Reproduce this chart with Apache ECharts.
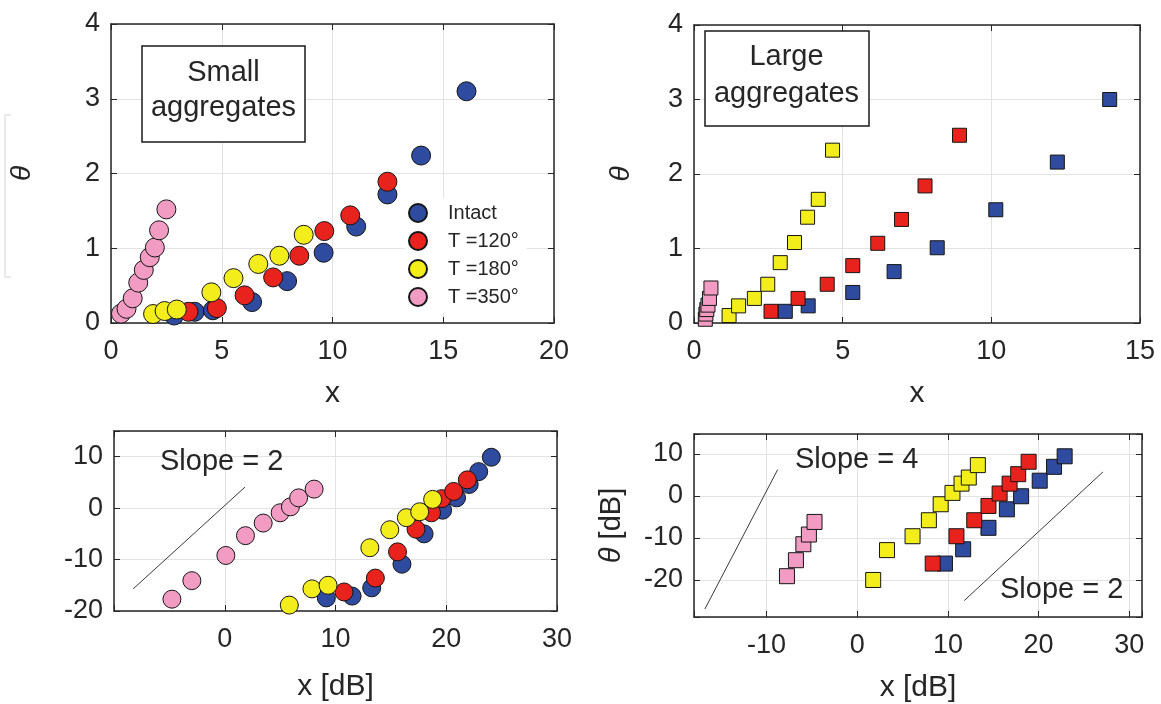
<!DOCTYPE html>
<html><head><meta charset="utf-8">
<script src="https://cdn.jsdelivr.net/npm/echarts@6/dist/echarts.min.js"></script>
<style>html,body{margin:0;padding:0;background:#fff}#c{width:1161px;height:704px}</style>
</head><body><div id="c"></div>
<script>
// ---------- data ----------
const seriesNames = ['Intact', 'T =120°', 'T =180°', 'T =350°'];
const seriesColors = ['#2f4b9f', '#e8231e', '#f3ee1b', '#f29cc3'];

// Panel A: small aggregates (linear)
const smallIntact = [[2.85,0.1],[3.78,0.15],[4.6,0.17],[6.37,0.28],[7.95,0.56],[9.6,0.94],[11.07,1.29],[12.48,1.72],[14.0,2.24],[16.05,3.1]];
const small120 = [[3.5,0.15],[4.78,0.2],[6.03,0.37],[7.32,0.61],[8.5,0.9],[9.63,1.23],[10.8,1.44],[12.48,1.89]];
const small180 = [[1.9,0.12],[2.42,0.16],[2.97,0.18],[4.53,0.41],[5.53,0.6],[6.65,0.79],[7.6,0.9],[8.7,1.18]];
const small350 = [[0.45,0.125],[0.7,0.19],[0.98,0.33],[1.23,0.54],[1.48,0.71],[1.75,0.88],[1.98,1.01],[2.17,1.24],[2.5,1.52]];

// Panel B: large aggregates (linear)
const largeIntact = [[3.07,0.157],[3.84,0.23],[5.34,0.41],[6.73,0.69],[8.18,1.01],[10.15,1.52],[12.22,2.16],[13.98,3.0]];
const large120 = [[2.59,0.157],[3.5,0.33],[4.48,0.52],[5.34,0.77],[6.18,1.07],[6.98,1.39],[7.77,1.84],[8.93,2.52]];
const large180 = [[1.18,0.1],[1.5,0.23],[2.03,0.33],[2.48,0.52],[2.9,0.81],[3.38,1.08],[3.82,1.42],[4.18,1.66],[4.66,2.32]];
const large350 = [[0.38,0.05],[0.4,0.12],[0.43,0.18],[0.47,0.24],[0.52,0.33],[0.57,0.47]];

// Panel C: small aggregates (dB)
const smallDbIntact = [[9.17,-17.45],[11.5,-17.1],[13.27,-15.5],[16.0,-10.9],[18.0,-5.0],[19.67,-0.4],[20.93,2.0],[22.07,4.6],[22.93,7.1],[24.07,9.9]];
const smallDb120 = [[10.77,-16.3],[13.6,-13.6],[15.6,-8.5],[17.27,-4.1],[18.67,-0.9],[19.6,1.85],[20.67,3.25],[21.9,5.5]];
const smallDb180 = [[5.83,-18.85],[7.87,-15.7],[9.33,-15.0],[13.1,-7.7],[14.9,-4.2],[16.4,-1.85],[17.6,-0.7],[18.77,1.7]];
const smallDb350 = [[-4.77,-17.7],[-2.97,-14.1],[0.1,-9.2],[1.87,-5.35],[3.47,-2.9],[5.0,-0.9],[5.93,0.25],[6.67,2.0],[8.07,3.7]];
const smallDbSlope2 = [[-8.27,-15.7],[1.83,4.1]];

// Panel D: large aggregates (dB)
const largeDbIntact = [[9.67,-16.1],[11.68,-12.7],[14.47,-7.6],[16.5,-3.2],[18.07,-0.1],[20.12,3.6],[21.7,6.9],[22.87,9.4]];
const largeDb120 = [[8.32,-16.1],[10.94,-9.6],[12.9,-5.8],[14.47,-2.4],[15.7,0.55],[16.8,2.9],[17.75,5.15],[18.9,8.1]];
const largeDb180 = [[1.76,-20.0],[3.28,-12.9],[6.1,-9.6],[7.9,-5.8],[9.2,-2.0],[10.5,0.7],[11.5,2.9],[12.3,4.35],[13.3,7.3]];
const largeDb350 = [[-7.75,-19.1],[-6.76,-15.3],[-5.94,-11.5],[-5.33,-9.2],[-4.71,-6.2]];
const largeDbSlope4 = [[-16.8,-26.9],[-8.77,6.25]];
const largeDbSlope2 = [[11.8,-24.9],[27.1,5.7]];

// axis ranges / tick steps
const axisRanges = [
  {x:[0,20], xs:5, y:[0,4], ys:1, hideXMin:false},
  {x:[0,15], xs:5, y:[0,4], ys:1, hideXMin:false},
  {x:[-10,30], xs:10, y:[-20,15], ys:10, hideXMin:true},
  {x:[-18,31.4], xs:10, y:[-28.8,14.7], ys:10, hideXMin:false}
];

// ---------- layout / style ----------
const FONT = 'Liberation Sans, Arial, sans-serif';
const INK = '#262626';
const grids = [
  {left:111, top:24, width:443, height:299},
  {left:694, top:25, width:446, height:298},
  {left:114, top:431, width:443, height:180},
  {left:694, top:434, width:448, height:183}
];
const xNames = [
  {name:'x', gap:56},
  {name:'x', gap:56},
  {name:'x [dB]', gap:61},
  {name:'x [dB]', gap:56}
];
const yNames = [
  {name:'θ', gap:75},
  {name:'θ', gap:59},
  {name:'', gap:0},
  {name:'{t|θ} [dB]', gap:68}
];

function fmt(step, hideMin, min){
  return function(v){
    if (hideMin && Math.abs(v - min) < 1e-9) return '';
    const r = v / step;
    return Math.abs(r - Math.round(r)) < 1e-6 ? String(Math.round(v*100)/100) : '';
  };
}
function isMult(v, step){ return Math.abs(v/step - Math.round(v/step)) < 1e-9; }

const xAxes = [], yAxes = [];
axisRanges.forEach(function(r, i){
  const baseLine = {show:true, onZero:false, lineStyle:{color:INK, width:1.5}};
  const tick = {show:true, inside:true, length:6, lineStyle:{color:INK, width:1}};
  const xCommon = {type:'value', gridIndex:i, min:r.x[0], max:r.x[1]};
  const yCommon = {type:'value', gridIndex:i, min:r.y[0], max:r.y[1]};
  if (isMult(r.x[0], r.xs) && isMult(r.x[1], r.xs)) xCommon.interval = r.xs; else xCommon.splitNumber = 5;
  if (isMult(r.y[0], r.ys) && isMult(r.y[1], r.ys)) yCommon.interval = r.ys; else yCommon.splitNumber = 5;
  xAxes.push(Object.assign({}, xCommon, {
    position:'bottom', axisLine:baseLine, axisTick:tick,
    splitLine:{show:true, lineStyle:{color:'#e3e3e3', width:1}},
    axisLabel:{fontSize:27, color:INK, fontFamily:FONT, margin:15, formatter:fmt(r.xs, r.hideXMin, r.x[0])},
    name:xNames[i].name, nameLocation:'middle', nameGap:xNames[i].gap,
    nameTextStyle:{fontSize:30, color:INK, fontFamily:FONT}
  }));
  xAxes.push(Object.assign({}, xCommon, {
    position:'top', axisLine:baseLine, axisTick:tick,
    splitLine:{show:false}, axisLabel:{show:false}
  }));
  yAxes.push(Object.assign({}, yCommon, {
    position:'left', axisLine:baseLine, axisTick:tick,
    splitLine:{show:true, lineStyle:{color:'#e3e3e3', width:1}},
    axisLabel:{fontSize:27, color:INK, fontFamily:FONT, margin:11, formatter:fmt(r.ys, false, r.y[0])},
    name:yNames[i].name, nameLocation:'middle', nameGap:yNames[i].gap, nameRotate:90,
    nameTextStyle:{fontSize:i===3?29:28, color:INK, fontFamily:FONT, fontStyle:i===3?'normal':'italic',
      rich:{t:{fontSize:29, fontStyle:'italic', fontFamily:FONT, color:INK}}}
  }));
  yAxes.push(Object.assign({}, yCommon, {
    position:'right', axisLine:baseLine, axisTick:tick,
    splitLine:{show:false}, axisLabel:{show:false}
  }));
});

const panelData = [
  [smallIntact, small120, small180, small350],
  [largeIntact, large120, large180, large350],
  [smallDbIntact, smallDb120, smallDb180, smallDb350],
  [largeDbIntact, largeDb120, largeDb180, largeDb350]
];
const panelSymbol = [['circle',19],['rect',14],['circle',18],['rect',15]];

const series = [];
panelData.forEach(function(sets, p){
  sets.forEach(function(d, k){
    series.push({
      type:'scatter', name:seriesNames[k], xAxisIndex:2*p, yAxisIndex:2*p,
      data:d, symbol:panelSymbol[p][0], symbolSize:panelSymbol[p][1], clip:false,
      itemStyle:{color:seriesColors[k], borderColor:'#151515', borderWidth:1, opacity:1},
      emphasis:{disabled:true}, z:2+k
    });
  });
});
function slopeLine(d, p){
  return {type:'line', xAxisIndex:2*p, yAxisIndex:2*p, data:d, symbol:'none', silent:true,
    lineStyle:{color:'#3a3a3a', width:1}, z:1};
}
series.push(slopeLine(smallDbSlope2, 2));
series.push(slopeLine(largeDbSlope4, 3));
series.push(slopeLine(largeDbSlope2, 3));

function txt(s, x, y, align){
  return {type:'text', z:20, style:{text:s, x:x, y:y, textAlign:align||'center', textVerticalAlign:'middle',
    font:'29px ' + FONT, fill:INK}};
}
const graphics = [
  {type:'rect', z:15, shape:{x:142, y:46, width:163, height:96}, style:{fill:'#fff', stroke:'#1a1a1a', lineWidth:1.5}},
  txt('Small', 223.5, 73), txt('aggregates', 223.5, 108),
  {type:'rect', z:15, shape:{x:705, y:31, width:164, height:95}, style:{fill:'#fff', stroke:'#1a1a1a', lineWidth:1.5}},
  txt('Large', 786.5, 57), txt('aggregates', 786.5, 94),
  txt('Slope = 2', 160, 462, 'left'),
  txt('Slope = 4', 795, 460, 'left'),
  txt('Slope = 2', 1000, 590, 'left'),
  {type:'polyline', z:1, shape:{points:[[11,115],[5,115],[5,277],[11,277]]}, style:{stroke:'#e8e8e8', lineWidth:2, fill:null}}
];

const chart = echarts.init(document.getElementById('c'), null, {renderer:'canvas'});
chart.setOption({
  animation:false,
  backgroundColor:'#fff',
  grid:grids.map(function(g){ return Object.assign({containLabel:false}, g); }),
  xAxis:xAxes, yAxis:yAxes,
  legend:{data:seriesNames, orient:'vertical', left:405, top:198, icon:'circle',
    itemWidth:50, itemHeight:18, itemGap:8, backgroundColor:'#fff', padding:[5,8,6,3],
    selectedMode:false, z:10,
    textStyle:{fontSize:20, fontFamily:FONT, color:INK}},
  series:series,
  graphic:graphics
});
</script></body></html>
